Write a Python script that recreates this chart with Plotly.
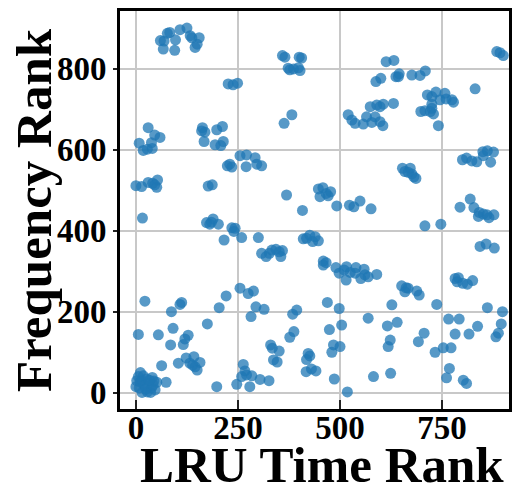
import plotly.graph_objects as go

# LRU time rank (x) and frequency rank (y)
lru_rank = [
    60, 69, 77, 83, 97, 108, 125, 133, 137, 155, 150, 145, 67, 95,
    226, 238, 249,
    30, 46, 59, 8, 38, 163, 169, 161, 198, 212, 167, 194, 214, 208,
    18, 28, 40,
    255, 271, 224, 230, 235, 270,
    0, 14, 30, 41, 53, 51, 46, 177, 187, 16,
    173, 181, 189, 202, 185, 235, 243, 240, 216, 259,
    359, 365, 400, 406, 373, 386, 398, 402, 377, 382, 363,
    520, 529, 537, 557, 565, 578, 590, 586, 606, 631, 598, 598, 605, 574,
    613, 632, 588, 600, 637, 645, 643, 676, 696, 709,
    714, 725, 735, 757, 745, 760, 774, 778, 725,
    698, 708, 721, 729, 725, 741, 831, 884, 892, 900,
    292, 296, 308, 369, 408,
    447, 458, 451, 471, 477, 466, 492, 523, 534, 549, 576,
    300, 410, 418, 426, 439, 433, 447,
    308, 319, 333, 343, 351, 359, 355, 327,
    459, 466, 459,
    653, 659, 672, 676, 681, 686, 667,
    800, 810, 823, 835, 850, 861, 876, 851, 869,
    708, 747,
    794, 819, 828, 841, 851, 860, 865, 877, 839,
    843, 858, 878,
    22, 87, 108, 112, 6, 55, 91, 85, 116, 120, 128, 175,
    63, 104, 123, 142, 132, 145, 150, 157, 139, 74, 198, 247,
    11, 18, 2, 14, 26, 40, 44, 51, 0, 8, 20, 30, 38, 47, 15, 28, 36, 10, 24, 42, 33, 6,
    263, 267, 259, 271, 255, 275, 221, 204, 282,
    288, 294, 314, 384, 394, 469, 498, 569, 474, 504, 377, 387,
    330, 334, 351, 337, 346, 484, 500, 480,
    422, 426, 418, 417, 430, 441, 284, 304, 326, 279, 486, 518, 582,
    490, 498, 515, 510, 525, 537, 551, 561, 569, 590, 539, 559, 516,
    651, 662, 667, 659, 688, 694, 627, 737,
    782, 790, 787, 801, 812, 825, 861, 898,
    616, 640, 766, 792, 837, 895, 888, 882,
    623, 618, 706, 692, 733, 753, 772, 782, 816,
    768, 761, 802, 810, 624,
]
freq_rank = [
    869, 868, 887, 889, 871, 896, 900, 881, 876, 876, 860, 852, 848, 845,
    762, 760, 764,
    654, 636, 630, 616, 617, 654, 643, 646, 649, 657, 620, 612, 620, 610,
    598, 601, 603,
    585, 587, 560, 564, 557, 558,
    511, 509, 519, 517, 525, 507, 513, 510, 513, 431,
    420, 416, 429, 416, 421, 407, 406, 398, 377, 383,
    832, 828, 828, 826, 801, 799, 802, 795, 797, 686, 665,
    686, 673, 665, 663, 681, 667, 710, 681, 712, 714, 706, 669, 659, 706,
    817, 820, 768, 776, 780, 787, 780, 784, 783, 794,
    735, 731, 742, 739, 723, 725, 723, 717, 712,
    694, 696, 694, 688, 702, 659, 750, 842, 839, 832,
    580, 564, 560, 488, 450,
    503, 506, 484, 486, 496, 492, 461, 463, 459, 473, 454,
    383, 380, 381, 389, 385, 373, 375,
    344, 336, 352, 354, 348, 351, 336, 344,
    325, 321, 315,
    554, 546, 554, 540, 533, 529, 544,
    575, 579, 572, 570, 595, 597, 594, 585, 569,
    412, 416,
    458, 478, 457, 445, 441, 439, 432, 439, 435,
    361, 367, 357,
    226, 200, 218, 223, 144, 143, 159, 118, 119, 133, 142, 170,
    67, 73, 86, 89, 73, 64, 56, 75, 68, 26, 15, 21,
    50, 42, 30, 30, 34, 38, 29, 26, 15, 12, 19, 23, 12, 7, 1, 2, 1, 27, 9, 19, 31, 40,
    70, 54, 40, 44, 258, 245, 239, 210, 188,
    251, 212, 206, 194, 204, 223, 208, 184, 156, 167, 137, 151,
    118, 110, 103, 81, 76, 118, 114, 100,
    97, 91, 82, 52, 59, 54, 42, 33, 30, 15, 34, 2, 40,
    309, 295, 278, 303, 297, 295, 282, 291, 286, 292, 309, 305, 311,
    264, 259, 258, 249, 251, 241, 217, 218,
    282, 284, 274, 270, 268, 277, 210, 200,
    165, 174, 182, 182, 164, 170, 147, 138,
    130, 114, 147, 126, 100, 111, 111, 145, 145,
    60, 37, 31, 23, 48,
]

x_ticks = [0, 250, 500, 750]
y_ticks = [0, 200, 400, 600, 800]

FONT = "Liberation Serif"
TITLE_FONT = dict(family=FONT, size=51, color="black", weight="bold")

fig = go.Figure(
    go.Scatter(
        x=lru_rank,
        y=freq_rank,
        mode="markers",
        marker=dict(size=11, color="#1f77b4", opacity=0.75, line=dict(width=0)),
        hoverinfo="skip",
    )
)

axis_common = dict(
    showline=True,
    linecolor="black",
    linewidth=3,
    mirror=True,
    showgrid=True,
    gridcolor="#c8c8c8",
    gridwidth=1.5,
    zeroline=False,
    tickcolor="#222",
    tickwidth=2,
    automargin=False,
    tickfont=dict(family=FONT, size=33, color="black", weight="bold"),
)

# the page body adds an 8px offset, so the figure is 8px smaller than the window
fig.update_layout(
    width=524,
    height=496,
    margin=dict(l=112, r=23, t=3, b=95),
    paper_bgcolor="white",
    plot_bgcolor="white",
    showlegend=False,
    xaxis=dict(
        range=[-39, 914],
        tickvals=x_ticks,
        ticktext=[str(v) for v in x_ticks],
        ticks="inside",
        ticklen=9,
        ticklabelstandoff=-13,
        title=dict(text=""),
        **axis_common,
    ),
    yaxis=dict(
        range=[-40, 942],
        tickvals=y_ticks,
        ticktext=[str(v) for v in y_ticks],
        ticks="outside",
        ticklen=4,
        title=dict(text=""),
        **axis_common,
    ),
    annotations=[
        dict(
            text="LRU Time Rank",
            xref="paper", yref="paper",
            x=0.52, y=0,
            xanchor="center", yanchor="top",
            yshift=-26,
            showarrow=False,
            font=TITLE_FONT,
        ),
        dict(
            text="Frequency Rank",
            xref="paper", yref="paper",
            x=0, y=0.5,
            xanchor="center", yanchor="middle",
            xshift=-86,
            textangle=-90,
            showarrow=False,
            font=TITLE_FONT,
        ),
    ],
)

fig.write_html("out.html")
